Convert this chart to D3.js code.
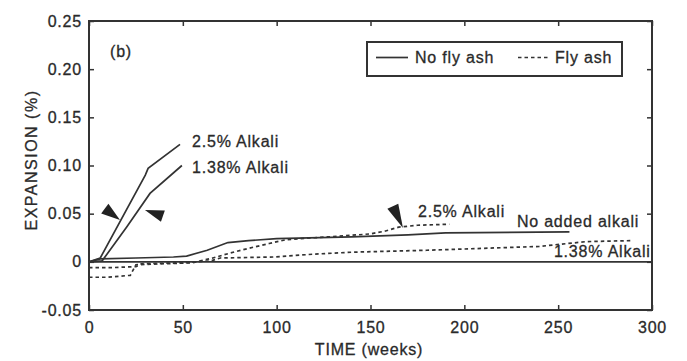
<!DOCTYPE html>
<html>
<head>
<meta charset="utf-8">
<script src="https://cdn.jsdelivr.net/npm/d3@7"></script>
<style>
  html, body { margin: 0; padding: 0; background: #fff; }
  svg text { font-family: "Liberation Sans", Arial, sans-serif; fill: #2a2a2a; stroke: #2a2a2a; stroke-width: 0.3px; }
</style>
</head>
<body>
<svg id="chart" width="687" height="361"></svg>
<script>
// Expansion (%) versus time (weeks): mortar bars with and without fly ash
const xTicks = [0, 50, 100, 150, 200, 250, 300];
const xTickLabels = ["0", "50", "100", "150", "200", "250", "300"];
const yTicks = [-0.05, 0, 0.05, 0.10, 0.15, 0.20, 0.25];
const yTickLabels = ["-0.05", "0", "0.05", "0.10", "0.15", "0.20", "0.25"];

// No fly ash (solid lines), [weeks, expansion %]
const noFlyAsh25 = [[0, 0], [6, 0.004], [30, 0.090], [31.5, 0.097], [48.5, 0.122]];
const noFlyAsh138 = [[0, 0], [7, 0.001], [20, 0.036], [32.5, 0.071], [49.5, 0.100]];
const noFlyAshNone = [[0, 0], [6, 0.003], [25, 0.004], [45, 0.005], [52, 0.006], [63, 0.012],
  [74, 0.020], [85, 0.022], [100, 0.024], [140, 0.026], [170, 0.028], [190, 0.030], [256, 0.031]];

// Fly ash (dashed lines)
const flyAsh25 = [[0, -0.016], [10, -0.016], [22, -0.014], [25, -0.003], [40, -0.002], [55, -0.001],
  [66, 0.004], [75, 0.009], [85, 0.014], [96, 0.019], [105, 0.023], [120, 0.025], [136, 0.027],
  [150, 0.029], [158, 0.032], [165, 0.036], [175, 0.038], [192, 0.039]];
const flyAsh138 = [[0, -0.006], [12, -0.006], [25, -0.005], [28, -0.002], [50, -0.001], [65, 0.001],
  [70, 0.004], [98, 0.005], [120, 0.008], [140, 0.010], [180, 0.012], [210, 0.014], [240, 0.016],
  [255, 0.019], [265, 0.021], [289, 0.022]];

// Curve labels anchored at [weeks, expansion]
const curveLabels = [
  { text: "2.5% Alkali", x: 54.9, y: 0.119, anchor: "start" },
  { text: "1.38% Alkali", x: 54.9, y: 0.092, anchor: "start" },
  { text: "2.5% Alkali", x: 175.3, y: 0.0465, anchor: "start" },
  { text: "No added alkali", x: 228, y: 0.036, anchor: "start" },
  { text: "1.38% Alkali", x: 299.3, y: 0.005, anchor: "end" },
  { text: "(b)", x: 11.2, y: 0.2126, anchor: "start" }
];

// Pointer arrowheads: tip at [weeks, expansion], direction in degrees
const pointers = [
  { x: 16.5, y: 0.0434, angle: 37 },
  { x: 29.8, y: 0.0538, angle: 199 },
  { x: 167.3, y: 0.0351, angle: 65 }
];

const svg = d3.select("#chart");
const x = d3.scaleLinear().domain([0, 300]).range([89, 652]);
const y = d3.scaleLinear().domain([-0.05, 0.25]).range([310, 21]);

const ink = "#333";
const fontSize = "16px";
const spacing = "0.8px";

// Axes with inward ticks on all four sides
const axB = svg.append("g").attr("transform", `translate(0,${y(-0.05)})`)
  .call(d3.axisBottom(x).tickValues(xTicks).tickSize(-5).tickPadding(12)
    .tickFormat((d, i) => xTickLabels[i]));
const axL = svg.append("g").attr("transform", `translate(${x(0)},0)`)
  .call(d3.axisLeft(y).tickValues(yTicks).tickSize(-5).tickPadding(7)
    .tickFormat((d, i) => yTickLabels[i]));
const axT = svg.append("g").attr("transform", `translate(0,${y(0.25)})`)
  .call(d3.axisTop(x).tickValues(xTicks).tickSize(-5).tickFormat(""));
const axR = svg.append("g").attr("transform", `translate(${x(300)},0)`)
  .call(d3.axisRight(y).tickValues(yTicks).tickSize(-5).tickFormat(""));

[axB, axL, axT, axR].forEach(g => {
  g.select(".domain").remove();
  g.selectAll(".tick line").attr("stroke", ink).attr("stroke-width", 1.5);
  g.selectAll(".tick text").attr("fill", "#2a2a2a").style("font-size", fontSize)
    .style("letter-spacing", spacing).style("font-family", '"Liberation Sans", Arial, sans-serif');
});

// Frame
svg.append("rect")
  .attr("x", x(0)).attr("y", y(0.25))
  .attr("width", x(300) - x(0)).attr("height", y(-0.05) - y(0.25))
  .attr("fill", "none").attr("stroke", ink).attr("stroke-width", 2);

// Zero reference line
svg.append("line")
  .attr("x1", x(0)).attr("x2", x(300)).attr("y1", y(0)).attr("y2", y(0))
  .attr("stroke", ink).attr("stroke-width", 1.6);

const line = d3.line().x(d => x(d[0])).y(d => y(d[1]));

const solidSeries = [noFlyAsh25, noFlyAsh138, noFlyAshNone];
const dashedSeries = [flyAsh25, flyAsh138];

svg.append("g").selectAll("path").data(solidSeries).join("path")
  .attr("d", line).attr("fill", "none").attr("stroke", ink).attr("stroke-width", 1.7);

svg.append("g").selectAll("path").data(dashedSeries).join("path")
  .attr("d", line).attr("fill", "none").attr("stroke", ink).attr("stroke-width", 1.7)
  .attr("stroke-dasharray", "3.5,3");

// Arrowheads
svg.append("g").selectAll("path").data(pointers).join("path")
  .attr("d", p => {
    const a = p.angle * Math.PI / 180;
    const len = p.angle === 65 ? 24 : 19, hw = 6;
    const tx = x(p.x), ty = y(p.y);
    const bx = tx - len * Math.cos(a), by = ty - len * Math.sin(a);
    const nx = -Math.sin(a) * hw, ny = Math.cos(a) * hw;
    return `M${tx},${ty}L${bx + nx},${by + ny}L${bx - nx},${by - ny}Z`;
  })
  .attr("fill", "#222");

// Curve labels
svg.append("g").selectAll("text").data(curveLabels).join("text")
  .attr("x", d => x(d.x)).attr("y", d => y(d.y))
  .attr("text-anchor", d => d.anchor)
  .style("font-size", fontSize).style("letter-spacing", spacing)
  .text(d => d.text);

// Legend
const legend = svg.append("g");
legend.append("rect").attr("x", 367).attr("y", 42).attr("width", 255).attr("height", 34)
  .attr("fill", "#fff").attr("stroke", ink).attr("stroke-width", 2);
legend.append("line").attr("x1", 376).attr("x2", 408).attr("y1", 57.5).attr("y2", 57.5)
  .attr("stroke", ink).attr("stroke-width", 1.7);
legend.append("text").attr("x", 415).attr("y", 63).style("font-size", fontSize)
  .style("letter-spacing", spacing).text("No fly ash");
legend.append("line").attr("x1", 518).attr("x2", 550).attr("y1", 57.5).attr("y2", 57.5)
  .attr("stroke", ink).attr("stroke-width", 1.7).attr("stroke-dasharray", "3.5,3");
legend.append("text").attr("x", 555).attr("y", 63).style("font-size", fontSize)
  .style("letter-spacing", spacing).text("Fly ash");

// Axis titles
svg.append("text").attr("x", 369).attr("y", 355).attr("text-anchor", "middle")
  .style("font-size", fontSize).style("letter-spacing", spacing).text("TIME (weeks)");
svg.append("text").attr("transform", "translate(37,160) rotate(-90)").attr("text-anchor", "middle")
  .style("font-size", fontSize).style("letter-spacing", "1.5px").text("EXPANSION (%)");
</script>
</body>
</html>
